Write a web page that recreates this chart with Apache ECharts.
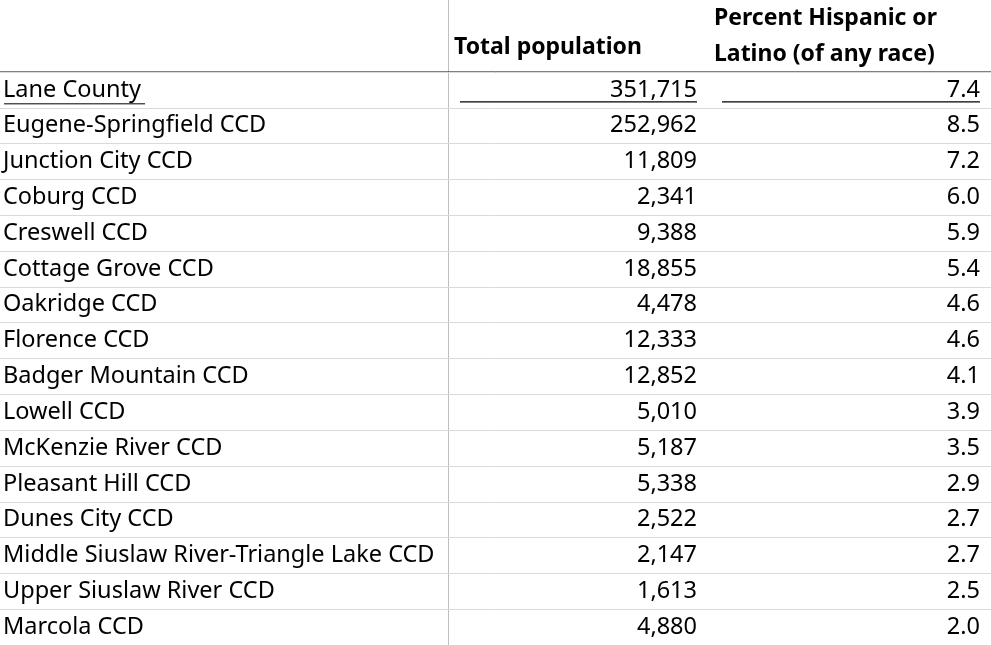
<!DOCTYPE html>
<html>
<head>
<meta charset="utf-8">
<script src="https://cdn.jsdelivr.net/npm/echarts@6/dist/echarts.min.js"></script>
<style>
  html, body { margin: 0; padding: 0; background: #fff; }
  #chart { width: 991px; height: 645px; }
</style>
</head>
<body>
<div id="chart"></div>
<script>
const places = ['Lane County', 'Eugene-Springfield CCD', 'Junction City CCD', 'Coburg CCD', 'Creswell CCD',
    'Cottage Grove CCD', 'Oakridge CCD', 'Florence CCD', 'Badger Mountain CCD', 'Lowell CCD',
    'McKenzie River CCD', 'Pleasant Hill CCD', 'Dunes City CCD', 'Middle Siuslaw River-Triangle Lake CCD',
    'Upper Siuslaw River CCD', 'Marcola CCD'];
const population = [351715, 252962, 11809, 2341, 9388, 18855, 4478, 12333, 12852, 5010, 5187, 5338, 2522, 2147, 1613, 4880];
const hispanicPct = [7.4, 8.5, 7.2, 6.0, 5.9, 5.4, 4.6, 4.6, 4.1, 3.9, 3.5, 2.9, 2.7, 2.7, 2.5, 2.0];
const headers = ['Total population', 'Percent Hispanic or\nLatino (of any race)'];

const font = '"Noto Sans", sans-serif';
const textColor = '#000';
const chart = echarts.init(document.getElementById('chart'));

function renderRow(params, api) {
    const i = api.value(0);
    const y = api.coord([0, i])[1];
    const size = api.size([0, 1])[1];
    const style = {fontFamily: font, fontSize: 23.5, fill: textColor, verticalAlign: 'middle'};
    const children = [
        {type: 'text', x: api.coord([3, i])[0], y: y, style: Object.assign({text: places[i], align: 'left'}, style)},
        {type: 'text', x: api.coord([697, i])[0], y: y, style: Object.assign({text: population[i].toLocaleString('en-US'), align: 'right'}, style)},
        {type: 'text', x: api.coord([980, i])[0], y: y, style: Object.assign({text: hispanicPct[i].toFixed(1), align: 'right'}, style)}
    ];
    if (i === 0) {
        const yl = y + size / 2 - 6;
        children.push(
            {type: 'line', shape: {x1: 4, y1: yl + 2, x2: 145, y2: yl + 2}, style: {stroke: '#000', lineWidth: 1}},
            {type: 'line', shape: {x1: 460, y1: yl, x2: 697, y2: yl}, style: {stroke: '#000', lineWidth: 1.2}},
            {type: 'line', shape: {x1: 722, y1: yl, x2: 980, y2: yl}, style: {stroke: '#000', lineWidth: 1.2}}
        );
    }
    return {type: 'group', children: children};
}

chart.setOption({
    animation: false,
    grid: {left: 0, right: 0, top: 72, bottom: -3},
    xAxis: {type: 'value', min: 0, max: 991, show: false},
    yAxis: {
        type: 'category',
        inverse: true,
        data: places,
        axisLine: {show: false},
        axisTick: {show: false},
        axisLabel: {show: false},
        splitLine: {show: true, lineStyle: {color: '#dadada', width: 1}}
    },
    graphic: [
        {type: 'line', shape: {x1: 448.5, y1: 0, x2: 448.5, y2: 645}, style: {stroke: '#bfbfbf', lineWidth: 1}},
        {type: 'line', shape: {x1: 0, y1: 72, x2: 991, y2: 72}, style: {stroke: '#000', lineWidth: 1}},
        {type: 'text', left: 454, top: 36, style: {text: headers[0], font: 'bold 23px ' + font, fill: textColor}},
        {type: 'text', left: 714, top: 0, style: {text: headers[1], font: 'bold 23px ' + font, fill: textColor, lineHeight: 36}}
    ],
    series: [{
        type: 'custom',
        renderItem: renderRow,
        data: places.map(function (p, i) { return [i]; }),
        encode: {y: 0}
    }]
});
</script>
</body>
</html>
